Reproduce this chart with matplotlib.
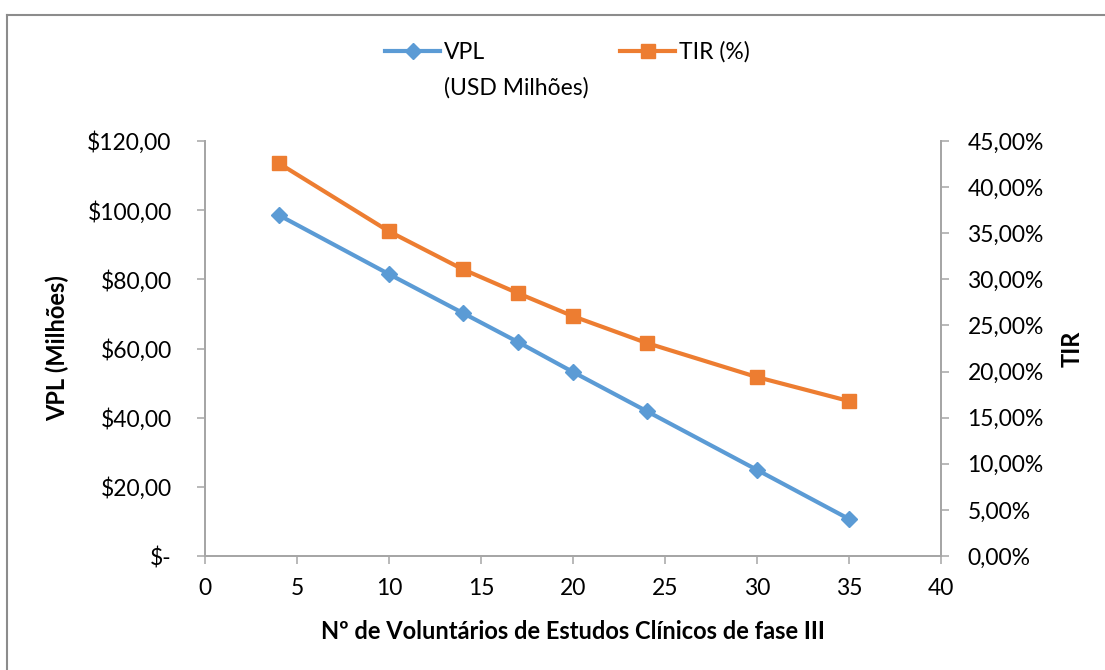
import matplotlib
matplotlib.use('Agg')
import matplotlib.pyplot as plt
from matplotlib.lines import Line2D
from matplotlib.ticker import FuncFormatter

plt.rcParams['font.family'] = ['Lato', 'DejaVu Sans']

# data
voluntarios = [4, 10, 14, 17, 20, 24, 30, 35]
vpl = [98.6, 81.5, 70.3, 61.9, 53.2, 41.9, 24.9, 10.7]
tir = [42.6, 35.2, 31.1, 28.5, 26.0, 23.1, 19.4, 16.8]

blue = '#5b9bd5'
orange = '#ed7d31'
grey = '#a6a6a6'
fs = 16.5


def fmt_vpl(v, pos):
    if abs(v) < 1e-9:
        return '$-'
    return '${:.2f}'.format(v).replace('.', ',')


def fmt_tir(v, pos):
    return '{:.2f}%'.format(v).replace('.', ',')


fig = plt.figure(figsize=(11.05, 6.70), dpi=100)
# axes box in pixels: x 205..941, y 141..556
ax = fig.add_axes([205 / 1105, 1 - 556 / 670, 736 / 1105, 415 / 670])
ax2 = ax.twinx()

l1, = ax.plot(voluntarios, vpl, color=blue, lw=3, marker='D', ms=8, label='VPL')
l2, = ax2.plot(voluntarios, tir, color=orange, lw=3, marker='s', ms=10, label='TIR (%)')

ax.set_xlim(0, 40)
ax.set_ylim(0, 120)
ax2.set_ylim(0, 45)
ax.set_xticks(range(0, 41, 5))
ax.set_yticks(range(0, 121, 20))
ax2.set_yticks(range(0, 46, 5))
ax.yaxis.set_major_formatter(FuncFormatter(fmt_vpl))
ax2.yaxis.set_major_formatter(FuncFormatter(fmt_tir))

for a in (ax, ax2):
    a.spines['top'].set_visible(False)
    for s in ('left', 'right', 'bottom'):
        a.spines[s].set_color(grey)
        a.spines[s].set_linewidth(1.3)
    a.tick_params(colors=grey, labelcolor='black', labelsize=fs,
                  length=6, width=1.1, direction='out')
ax.tick_params(axis='x', pad=10)
ax.tick_params(axis='y', pad=18)
ax2.tick_params(axis='y', pad=13)

ax.set_xlabel('Nº de Voluntários de Estudos Clínicos de fase III',
              fontsize=17, fontweight='bold', va='center')
ax.xaxis.set_label_coords(0.5, -0.183)
ax.set_ylabel('VPL (Milhões)', fontsize=17, fontweight='bold', va='center')
ax.yaxis.set_label_coords(-0.201, 0.5)
ax2.set_ylabel('TIR', fontsize=17, fontweight='bold', va='center', rotation=90)
ax2.yaxis.set_label_coords(1.178, 0.5)

leg = fig.legend(handles=[l1, l2], loc='center left', bbox_to_anchor=(374 / 1105, 1 - 52 / 670),
                 ncol=2, frameon=False, fontsize=fs, columnspacing=5.9, borderpad=0,
                 handlelength=2.4, handletextpad=0.15)

# second line of the VPL legend label, aligned under "VPL"
fig.canvas.draw()
bb = leg.get_texts()[0].get_window_extent()
fig.text(bb.x0 / 1105, 1 - 88 / 670, '(USD Milhões)', fontsize=fs, va='center', ha='left')

# chart area border (only top and left edges show in the crop)
fig.add_artist(Line2D([7 / 1105, 1], [1 - 15 / 670, 1 - 15 / 670], transform=fig.transFigure,
                      color='#8c8c8c', lw=1.5))
fig.add_artist(Line2D([7 / 1105, 7 / 1105], [0, 1 - 15 / 670], transform=fig.transFigure,
                      color='#8c8c8c', lw=1.5))

fig.savefig('out.png', dpi=100)
